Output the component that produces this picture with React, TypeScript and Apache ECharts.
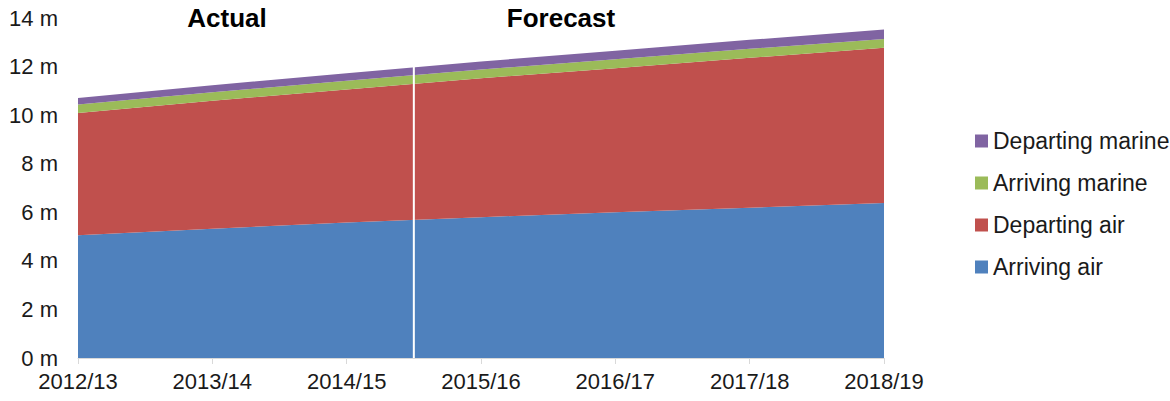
import React, { useEffect, useRef } from "react";
import * as echarts from "echarts";

const categories = ["2012/13", "2013/14", "2014/15", "2015/16", "2016/17", "2017/18", "2018/19"];
const arrivingAir = [5.05, 5.32, 5.58, 5.8, 6.0, 6.19, 6.38];
const departingAir = [5.04, 5.27, 5.48, 5.72, 5.93, 6.17, 6.39];
const arrivingMarine = [0.35, 0.35, 0.36, 0.36, 0.37, 0.37, 0.37];
const departingMarine = [0.27, 0.29, 0.31, 0.33, 0.35, 0.37, 0.39];
const dividerX = 2.5;
const dividerTop = 12.0;
const yTicks = [0, 2, 4, 6, 8, 10, 12, 14];
const legendOrder = ["Departing marine", "Arriving marine", "Departing air", "Arriving air"];

export default function App() {
  const ref = useRef<HTMLDivElement>(null);
  useEffect(() => {
    if (!ref.current) return;
    const chart = echarts.init(ref.current, undefined, { renderer: "svg" });
    const font = "Liberation Sans, Arial, sans-serif";
    const area = (name: string, data: number[], color: string) => ({
      name,
      type: "line",
      stack: "total",
      data,
      symbol: "none",
      lineStyle: { width: 0 },
      areaStyle: { color, opacity: 1 },
      itemStyle: { color },
      xAxisIndex: 0,
      yAxisIndex: 0,
    });
    chart.setOption({
      animation: false,
      textStyle: { fontFamily: font },
      grid: { left: 78, right: 286, top: 18, bottom: 43 },
      legend: {
        orient: "vertical",
        left: 970,
        top: 124,
        itemWidth: 13,
        itemHeight: 13,
        itemGap: 18,
        icon: "rect",
        textStyle: { fontSize: 23, lineHeight: 24, color: "#1a1a1a", fontFamily: font },
        data: legendOrder,
      },
      xAxis: [
        {
          type: "category",
          data: categories,
          boundaryGap: false,
          axisLine: { show: true, lineStyle: { color: "#d9d9d9", width: 1 } },
          axisTick: { show: true, length: 6, lineStyle: { color: "#d9d9d9" } },
          axisLabel: { fontSize: 22, color: "#1a1a1a", margin: 12, fontFamily: font },
          splitLine: { show: false },
        },
        {
          type: "value",
          min: 0,
          max: categories.length - 1,
          show: false,
        },
      ],
      yAxis: {
        type: "value",
        min: yTicks[0],
        max: yTicks[yTicks.length - 1],
        interval: 2,
        axisLine: { show: false },
        axisTick: { show: false },
        splitLine: { show: false },
        axisLabel: {
          fontSize: 22,
          color: "#1a1a1a",
          margin: 20,
          fontFamily: font,
          formatter: (v: number) => `${v} m`,
        },
      },
      series: [
        area("Arriving air", arrivingAir, "#4F81BD"),
        area("Departing air", departingAir, "#C0504D"),
        area("Arriving marine", arrivingMarine, "#9BBB59"),
        area("Departing marine", departingMarine, "#8064A2"),
        {
          type: "line",
          xAxisIndex: 1,
          yAxisIndex: 0,
          data: [
            [dividerX, 0],
            [dividerX, dividerTop],
          ],
          symbol: "none",
          lineStyle: { color: "#ffffff", width: 2 },
          silent: true,
          z: 5,
        },
      ],
      graphic: [
        {
          type: "text",
          x: 227,
          y: 18,
          style: {
            text: "Actual",
            fontSize: 26,
            fontWeight: "bold",
            fill: "#000",
            fontFamily: font,
            align: "center",
            verticalAlign: "middle",
          },
        },
        {
          type: "text",
          x: 561,
          y: 18,
          style: {
            text: "Forecast",
            fontSize: 26,
            fontWeight: "bold",
            fill: "#000",
            fontFamily: font,
            align: "center",
            verticalAlign: "middle",
          },
        },
      ],
    });
    return () => chart.dispose();
  }, []);
  return (
    <div
      ref={ref}
      style={{ position: "fixed", left: 0, top: 0, width: 1170, height: 401, background: "#fff" }}
    />
  );
}
